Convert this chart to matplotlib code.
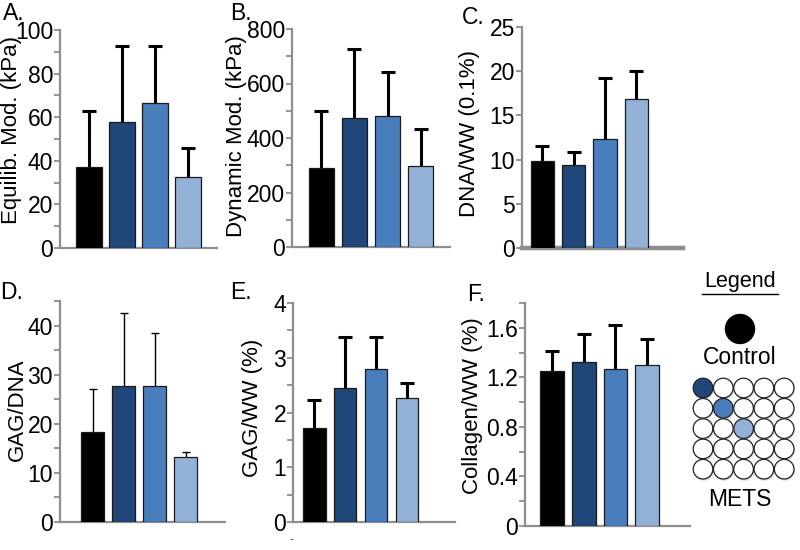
import matplotlib
matplotlib.use('Agg')
import matplotlib.pyplot as plt
from matplotlib.patches import Circle

plt.rcParams['font.family'] = ['Liberation Sans', 'DejaVu Sans']

W, H = 800, 550

GROUPS = ['Control', 'METS 1', 'METS 2', 'METS 3']
COLORS = ['#000000', '#1f477a', '#4a7dbb', '#93b1d6']
SPINE = '#8e8e8e'

equilib_mean = [37, 58, 66.5, 32.5]
equilib_err = [26, 34.5, 26, 13.5]
dynamic_mean = [290, 473, 481, 297]
dynamic_err = [209, 253, 161, 136]
dna_mean = [9.8, 9.4, 12.3, 16.8]
dna_err = [1.7, 1.5, 6.9, 3.2]
gagdna_mean = [18.4, 27.6, 27.6, 13.2]
gagdna_err = [8.7, 15.0, 10.9, 1.1]
gagww_mean = [1.72, 2.45, 2.79, 2.26]
gagww_err = [0.51, 0.93, 0.59, 0.28]
coll_mean = [1.25, 1.32, 1.27, 1.30]
coll_err = [0.16, 0.23, 0.35, 0.21]


def px_axes(fig, left, top, right, bottom):
    return fig.add_axes([left / W, 1 - bottom / H, (right - left) / W, (bottom - top) / H])


def panel(fig, box, mean, err, ylabel, ylim, major, minor, xlim, width,
          labelxy, fmt=None, thin=False, bottom_lw=1.6):
    ax = px_axes(fig, *box)
    x = list(range(len(mean)))
    ax.bar(x, mean, width=width, color=COLORS, edgecolor='#1a1a1a', linewidth=0.9, zorder=3)
    # symmetric bars drawn behind the columns, so only the upper half shows
    ax.errorbar(x, mean, yerr=err, fmt='none', ecolor='black',
                elinewidth=1.0 if thin else 2.2, capsize=3 if thin else 5,
                capthick=1.0 if thin else 2.2, zorder=2)
    ax.set_xlim(*xlim)
    ax.set_ylim(*ylim)
    ax.set_yticks(major)
    if minor is not None:
        ax.set_yticks(minor, minor=True)
    if fmt:
        ax.set_yticklabels([fmt(v) for v in major])
    ax.set_xticks([])
    for s in ['top', 'right']:
        ax.spines[s].set_visible(False)
    ax.spines['left'].set_color(SPINE)
    ax.spines['bottom'].set_color(SPINE)
    ax.spines['left'].set_linewidth(1.6)
    ax.spines['bottom'].set_linewidth(bottom_lw)
    ax.tick_params(axis='y', which='both', direction='out', length=4, width=1.3,
                   color=SPINE, labelsize=16.5, pad=1)
    ax.set_ylabel(ylabel, fontsize=16)
    ax.yaxis.set_label_coords(*labelxy)
    return ax


fig = plt.figure(figsize=(W / 100, H / 100), dpi=100)

panel(fig, (60, 30, 217, 248), equilib_mean, equilib_err, 'Equilib. Mod. (kPa)',
      (0, 100), list(range(0, 101, 20)), list(range(10, 100, 20)),
      (-0.88, 3.88), 0.76, (-0.24, 0.54))
panel(fig, (292, 29, 450, 247), dynamic_mean, dynamic_err, 'Dynamic Mod. (kPa)',
      (0, 800), list(range(0, 801, 200)), list(range(100, 800, 200)),
      (-0.88, 3.88), 0.76, (-0.285, 0.51))
panel(fig, (522, 27, 683, 248), dna_mean, dna_err, 'DNA/WW (0.1%)',
      (0, 25), list(range(0, 26, 5)), None,
      (-0.65, 4.49), 0.74, (-0.26, 0.52), bottom_lw=3.2)
panel(fig, (60, 301, 225, 522), gagdna_mean, gagdna_err, 'GAG/DNA',
      (0, 45), list(range(0, 41, 10)), list(range(5, 46, 10)),
      (-1.06, 4.26), 0.74, (-0.194, 0.51), thin=True)
panel(fig, (293, 303, 455, 522), gagww_mean, gagww_err, 'GAG/WW (%)',
      (0, 4), [0, 1, 2, 3, 4], [0.5, 1.5, 2.5, 3.5],
      (-0.68, 4.55), 0.74, (-0.185, 0.52))
panel(fig, (525, 303, 690, 526), coll_mean, coll_err, 'Collagen/WW (%)',
      (0, 1.8), [0, 0.4, 0.8, 1.2, 1.6], [0.2, 0.6, 1.0, 1.4, 1.8],
      (-0.85, 4.35), 0.75, (-0.255, 0.54), fmt=lambda v: '0' if v == 0 else f'{v:.1f}')

# panel letters
for letter, (lx, ly) in zip('ABCDEF', [(3, 2), (230, 2), (462, 6), (0, 281), (230, 281), (467, 283)]):
    fig.text(lx / W, 1 - ly / H, letter + '.', fontsize=16.5, ha='left', va='top')

fig.text(292 / W, 1 - 540 / H, '-', fontsize=9, ha='center', va='center', color='#444444')

# legend
lax = px_axes(fig, 680, 262, 800, 530)
lax.set_xlim(680, 800)
lax.set_ylim(530, 262)
lax.axis('off')
lax.text(740, 292, 'Legend', fontsize=15.5, ha='center', va='bottom')
lax.plot([702, 778], [294, 294], color='black', lw=1.0)
lax.add_patch(Circle((740, 329), 14.5, facecolor='black', edgecolor='black'))
lax.text(740, 358, 'Control', fontsize=16.5, ha='center', va='center')
for r in range(5):
    for c in range(5):
        cx, cy = 703 + 20.3 * c, 388 + 20.3 * r
        lax.add_patch(Circle((cx + 0.8, cy + 1.6), 10, facecolor='#bbbbbb',
                             edgecolor='none', alpha=0.5, zorder=1))
        fc = COLORS[r + 1] if (r == c and r < 3) else 'white'
        lax.add_patch(Circle((cx, cy), 9.8, facecolor=fc, edgecolor='#222222',
                             linewidth=0.9, zorder=2))
lax.text(740, 500, 'METS', fontsize=16.5, ha='center', va='center')

fig.savefig('out.png', dpi=100)
